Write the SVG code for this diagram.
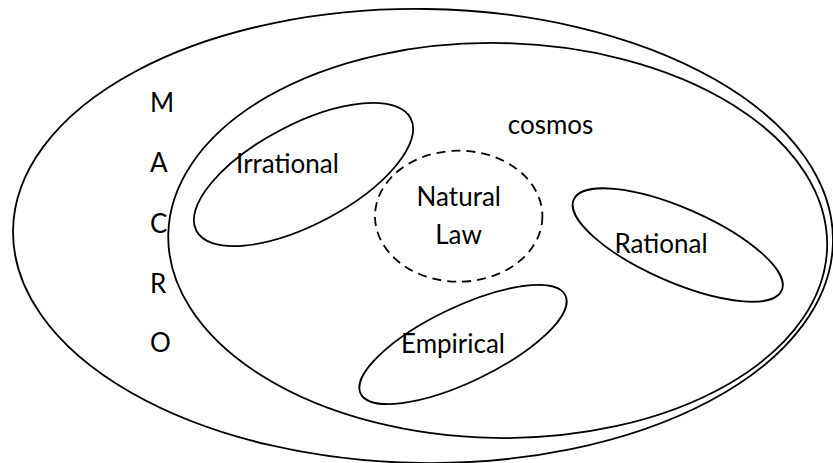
<svg xmlns="http://www.w3.org/2000/svg" width="833" height="463" viewBox="0 0 833 463">
  <style>
    .shape { fill: none; stroke: #000; stroke-width: 1.8; }
    .dashed { stroke-dasharray: 9 6; }
    .lbl { font-family: Lato, "Open Sans", "Liberation Sans", sans-serif; font-size: 26px; fill: #000; }
    .mid { text-anchor: middle; }
  </style>
  <rect width="833" height="463" fill="#fff"/>
  <g id="macro">
    <ellipse class="shape" cx="423" cy="236" rx="410" ry="227" transform="rotate(0.8 423 236)"/>
    <text class="lbl" x="150" y="111.7">M</text>
    <text class="lbl" x="150" y="171.7">A</text>
    <text class="lbl" x="150" y="233">C</text>
    <text class="lbl" x="150" y="293">R</text>
    <text class="lbl" x="150" y="352">O</text>
  </g>
  <g id="cosmos">
    <ellipse class="shape" cx="497.7" cy="240.5" rx="329.5" ry="197.5" transform="rotate(1 497.7 240.5)"/>
    <text class="lbl mid" x="550.5" y="134">cosmos</text>
  </g>
  <g id="irrational">
    <ellipse class="shape" cx="303.5" cy="174.5" rx="121" ry="50" transform="rotate(-27.7 303.5 174.5)"/>
    <text class="lbl mid" x="287.5" y="173.3">Irrational</text>
  </g>
  <g id="natural-law">
    <ellipse class="shape dashed" cx="458.7" cy="216.2" rx="83.7" ry="65.5"/>
    <text class="lbl mid" x="458.8" y="206">Natural</text>
    <text class="lbl mid" x="458.5" y="244">Law</text>
  </g>
  <g id="rational">
    <ellipse class="shape" cx="677.7" cy="245" rx="113.5" ry="37" transform="rotate(23.6 677.7 245)"/>
    <text class="lbl mid" x="661" y="253.3">Rational</text>
  </g>
  <g id="empirical">
    <ellipse class="shape" cx="463" cy="344.5" rx="113.5" ry="37.4" transform="rotate(-25.6 463 344.5)"/>
    <text class="lbl mid" x="453" y="352.7">Empirical</text>
  </g>
  <g id="connectors"/>
</svg>
